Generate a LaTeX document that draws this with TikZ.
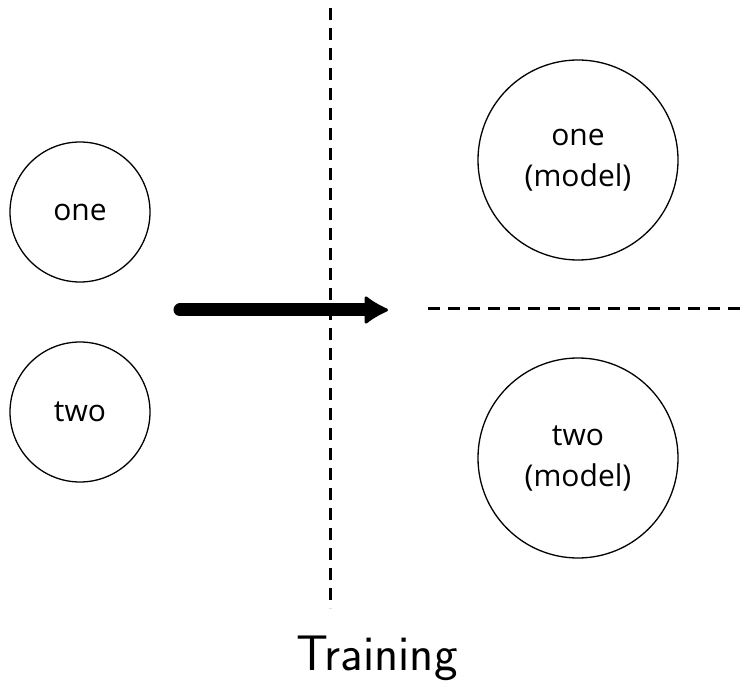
\documentclass[tikz,border=0pt]{standalone}
\usepackage{fontspec}
\newfontfamily\labelfont{Open Sans}
\usetikzlibrary{arrows.meta}
\begin{document}
\begin{tikzpicture}[x=1pt,y=-1pt,
  smallcirc/.style={circle,draw,line width=1.3pt,minimum size=140pt,inner sep=0pt,
    font=\labelfont\fontsize{30}{41}\selectfont},
  bigcirc/.style={circle,draw,line width=1.3pt,minimum size=200pt,inner sep=0pt,align=center,
    font=\labelfont\fontsize{30}{41}\selectfont},
  divider/.style={line width=3pt,dash pattern=on 12pt off 8pt},
  flow/.style={line width=13pt,line cap=round,
    -{Latex[length=26pt 0 0,width=31pt 0 0,line width=3pt,round]}}]
  \useasboundingbox (0,0) rectangle (744,684);
  % input classes
  \node[smallcirc] (one) at (80,212) {one};
  \node[smallcirc] (two) at (80,412) {two};
  % trained models
  \node[bigcirc] (onem) at (578,160) {one\\(model)};
  \node[bigcirc] (twom) at (578,458) {two\\(model)};
  % separators
  \coordinate (vtop) at (330,8);
  \coordinate (vbot) at (330,608);
  \coordinate (hleft) at (428,309);
  \coordinate (hright) at (744,309);
  \draw[divider] (vtop) -- (vbot);
  \draw[divider] (hleft) -- (hright);
  % training arrow
  \coordinate (astart) at (180,310);
  \coordinate (aend) at (388,310);
  \draw[flow] (astart) -- (aend);
  \node[anchor=base,font=\sffamily\fontsize{50}{60}\selectfont] (label) at (377,670) {Training};
\end{tikzpicture}
\end{document}
